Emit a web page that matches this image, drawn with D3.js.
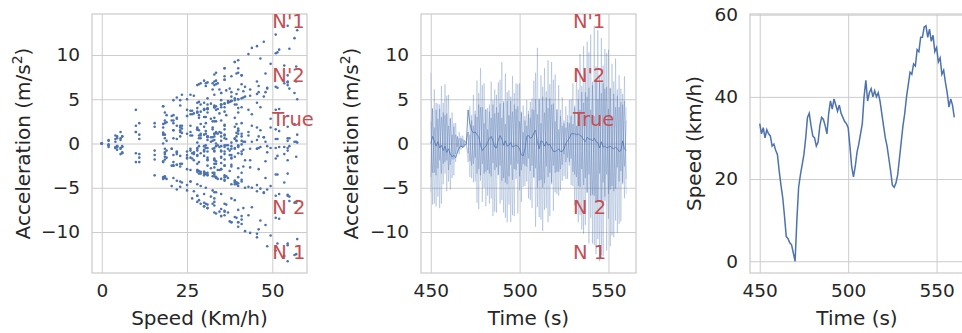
<!DOCTYPE html>
<html>
<head>
<meta charset="utf-8">
<script src="https://cdn.jsdelivr.net/npm/d3@7"></script>
<style>
	body { margin: 0; background: #fff; }
	text { font-family: 'DejaVu Sans', sans-serif; fill: #262626; }
</style>
</head>
<body>
<div id="chart"></div>
<script>
// time samples (s)
const times = d3.range(450, 561);

// speed (km/h), one value per second
const speed = [
	33.5, 31, 32.5, 30, 32, 31, 30.5, 28, 28.5, 27,
	26, 22, 18.5, 15.5, 11, 6, 5.5, 4.5, 4, 2,
	0, 10, 18, 21, 23.5, 26, 30, 35, 36, 33,
	30.5, 30, 28, 29, 33, 35, 34.5, 33, 31, 36,
	39, 37, 39.5, 38, 36.5, 38, 36, 35, 34, 33.5,
	32.5, 28, 23, 20.5, 23, 26.5, 28.5, 31, 33.5, 40,
	44, 39, 41, 42, 40, 41.5, 40, 41, 39, 36,
	33, 30, 28, 25, 22, 18.5, 18, 19, 21, 25,
	29, 33, 36, 40, 43, 46, 45.5, 48, 47.5, 51.5,
	51, 54.5, 54.5, 57, 57.3, 54.5, 56.5, 53.5, 55, 51,
	52, 48.5, 49.5, 45.5, 46.5, 43.5, 41, 37.5, 39.5, 38,
	35
];

// true acceleration (m/s2)
const accTrue = [
	0, 0.8, 0.3, -0.3, 0.2, -0.5, -0.2, -0.8, -0.3, -1.0,
	-0.6, -1.2, -1.5, -1.3, -1.6, -1.0, -0.5, -0.3, -0.4, -0.2,
	0.0, 3.8, 2.2, 1.5, 1.2, 1.3, 1.0, 0.8, -0.2, -0.8,
	-0.5, -0.3, 0.1, 0.6, 0.8, 0.3, -0.4, -0.5, 0.4, 0.9,
	0.5, -0.2, 0.3, -0.3, -0.2, 0.1, -0.4, -0.3, -0.2, -0.3,
	-0.6, -1.3, -1.4, -0.6, 0.8, 0.9, 0.6, 0.7, 1.2, 1.5,
	0.2, -0.6, 0.3, 0.2, -0.3, 0.2, -0.2, -0.1, -0.5, -0.9,
	-0.9, -0.8, -0.6, -0.9, -0.9, -0.6, 0.0, 0.3, 0.6, 1.1,
	1.1, 1.1, 1.0, 1.1, 0.9, 0.8, 0.4, 0.2, 0.7, 0.5,
	0.5, 0.3, 0.6, 0.2, 0.1, -0.5, 0.2, -0.4, -0.3, -0.5,
	-0.4, -0.3, -0.5, -0.6, -0.4, -0.6, -0.9, -0.8, 0.3, -0.6,
	-0.8
];

// small measurement noise around the true acceleration
const accSmall = [
	1.2, -0.9, 1.6, -1.4, 0.7, -1.8, 1.1, -0.5, 1.5, -1.2,
	0.9, -1.0, 0.6, -0.8, 0.5, -0.3, 0.4, -0.3, 0.2, -0.1,
	0, 2.0, 1.2, -1.3, 1.7, -0.8, 1.9, -1.6, 0.6, -1.9,
	1.4, -0.7, 1.8, -1.1, 0.4, -1.5, 1.3, -1.8, 0.8, -1.2,
	1.9, -0.6, 1.2, -1.7, 0.5, -1.3, 1.6, -0.9, 1.1, -2.0,
	0.7, -1.4, 1.5, -0.6, 1.8, -1.1, 0.9, -1.6, 1.3, -0.4,
	2.0, -1.5, 0.8, -1.9, 1.4, -0.7, 1.7, -1.2, 0.6, -1.8,
	1.1, -0.9, 1.6, -1.3, 0.5, -1.0, 1.2, -0.8, 1.5, -1.6,
	0.9, -1.7, 2.1, -1.1, 1.3, -0.5, 1.8, -2.0, 0.7, -1.4,
	1.6, -0.8, 1.9, -1.5, 1.0, -1.9, 2.2, -1.2, 0.6, -1.7,
	1.4, -1.0, 1.8, -0.6, 1.5, -1.9, 1.1, -1.3, 0.8, -1.6,
	1.2
];

// acceleration with strong noise (N'1 / N 1), two runs
const accN1 = [
	8.0, -6.9, 6.1, -7.1, 4.5, -7.3, 6.5, -4.6, 6.7, -5.4,
	5.5, -5.2, 3.5, -3.6, 2.3, -1.1, 1.3, -0.7, 0.9, -0.4,
	0, -2.1, 4.2, -3.9, 5.5, -4.3, 7.1, -7.4, 8.5, -6.6,
	6.8, -7.1, 4.0, -6.8, 7.0, -8.2, 6.1, -7.8, 6.9, -6.8,
	9.2, -7.8, 7.9, -8.9, 6.0, -8.9, 7.6, -8.2, 6.8, -7.9,
	6.8, -6.6, 4.3, -4.8, 4.9, -6.2, 4.7, -7.3, 7.1, -9.4,
	10.8, -8.3, 7.7, -9.9, 8.5, -7.3, 9.4, -8.2, 9.2, -7.6,
	7.8, -5.7, 6.6, -5.3, 5.2, -3.7, 4.2, -4.0, 4.9, -4.7,
	6.8, -7.0, 8.5, -8.9, 10.1, -9.7, 11.0, -9.2, 11.5, -11.3,
	12.3, -11.3, 13.3, -12.5, 12.8, -13.3, 11.9, -12.7, 10.7, -12.1,
	10.6, -11.6, 9.0, -10.6, 9.6, -10.1, 7.7, -8.8, 5.6, -6.2,
	4.1
];
const accN1b = [
	-5.5, 4.0, -6.8, 4.6, -6.0, 4.4, -6.8, 4.6, -3.4, 5.4,
	-4.3, 2.9, -3.9, 2.3, -2.1, 0.8, -1.2, 0.8, -0.5, 0.4,
	0, 1.3, -3.8, 3.2, -4.4, 3.7, -6.7, 5.7, -4.2, 6.6,
	-5.0, 3.9, -5.9, 4.4, -6.2, 4.9, -7.7, 5.5, -3.6, 7.2,
	-6.4, 4.8, -8.4, 5.8, -6.9, 5.3, -8.1, 5.7, -4.0, 6.7,
	-5.3, 3.6, -4.9, 3.1, -4.3, 3.7, -6.4, 5.1, -3.9, 8.0,
	-7.2, 5.1, -8.6, 6.4, -7.5, 5.9, -8.9, 6.7, -4.6, 7.2,
	-5.5, 3.9, -5.9, 3.8, -4.2, 2.6, -4.0, 3.2, -2.5, 5.0,
	-4.8, 4.3, -7.7, 6.1, -8.1, 6.5, -10.2, 7.9, -5.6, 10.3,
	-8.4, 7.0, -11.5, 8.7, -10.8, 7.7, -12.6, 8.8, -6.5, 10.2,
	-8.5, 6.3, -10.4, 7.0, -8.7, 6.1, -9.1, 6.2, -4.6, 7.6,
	-5.7
];

// acceleration with moderate noise (N'2 / N 2), two runs
const accN2 = [
	-3.8, 3.9, -3.3, 3.8, -2.8, 3.9, -3.4, 3.5, -2.1, 3.4,
	-3.0, 2.8, -1.8, 1.9, -1.2, 0.8, -0.6, 0.6, -0.5, 0.3,
	0, 1.3, -2.0, 2.6, -2.3, 3.3, -3.4, 4.4, -3.6, 4.1,
	-3.4, 3.8, -3.0, 3.6, -3.7, 4.4, -3.0, 4.1, -3.5, 4.5,
	-4.2, 4.6, -4.4, 4.8, -3.7, 4.8, -4.1, 4.4, -3.0, 4.2,
	-3.7, 3.5, -2.3, 2.6, -2.6, 3.3, -3.1, 3.9, -3.8, 5.0,
	-5.0, 4.9, -4.1, 5.3, -4.5, 5.2, -3.8, 5.1, -4.4, 4.5,
	-3.3, 3.8, -3.2, 3.1, -2.4, 2.3, -2.1, 2.4, -2.1, 3.1,
	-3.2, 4.1, -3.8, 5.0, -4.9, 5.8, -4.7, 5.8, -5.5, 6.3,
	-5.9, 6.6, -5.9, 7.0, -6.5, 6.9, -6.7, 6.8, -6.0, 6.4,
	-5.7, 6.2, -4.8, 5.6, -5.1, 5.4, -4.3, 4.7, -4.4, 4.8,
	-4.0
];
const accN2b = [
	2.5, -3.3, 1.8, -3.6, 2.8, -1.9, 3.0, -2.3, 3.2, -1.9,
	2.0, -2.4, 1.0, -1.8, 1.0, -0.4, 0.6, -0.4, 0.5, -0.2,
	0, -1.1, 1.0, -2.5, 2.0, -1.6, 3.0, -2.9, 4.1, -2.3,
	2.3, -3.2, 1.6, -3.4, 2.9, -2.2, 3.4, -2.7, 3.5, -2.5,
	2.9, -3.9, 2.2, -4.6, 3.2, -2.4, 3.6, -2.9, 3.9, -2.3,
	2.5, -3.0, 1.3, -2.5, 2.0, -1.7, 2.9, -2.5, 3.8, -2.8,
	3.3, -4.2, 2.3, -5.0, 3.5, -2.6, 4.0, -3.3, 4.4, -2.5,
	2.5, -3.2, 1.6, -2.9, 2.0, -1.2, 1.8, -1.6, 2.3, -1.7,
	2.2, -3.5, 2.0, -4.8, 3.8, -2.9, 4.6, -3.9, 5.3, -3.5,
	3.8, -5.8, 3.1, -6.7, 5.0, -3.4, 5.7, -4.4, 6.2, -3.5,
	3.9, -5.2, 2.8, -5.4, 4.1, -2.7, 4.1, -3.1, 4.4, -2.6,
	2.6
];

// text annotations
const noiseLabels = ["N'1", "N'2", 'True', 'N 2', 'N 1'];
const noiseLabelY = [13, 7, 2, -8, -13];

const speedTicks = [0, 25, 50];
const timeTicks = [450, 500, 550];
const accTicks = [-10, -5, 0, 5, 10];
const speedAxisTicks = [0, 20, 40, 60];

const blue = '#4c72b0';
const red = '#c44e52';
const gridColor = '#cccccc';

const W = 962, H = 333;
const plotTop = 14, plotBottom = 273;

const svg = d3.select('#chart').append('svg')
	.attr('width', W)
	.attr('height', H);

// matplotlib style 5% padding
function padded(ext) {
	const p = (ext[1] - ext[0]) * 0.05;
	return [ext[0] - p, ext[1] + p];
}

const allAcc = [...accTrue, ...accSmall, ...accN1, ...accN1b, ...accN2, ...accN2b];
const accDomain = padded(d3.extent(allAcc));

function makePanel(left, right, xDomain, yDomain, xTicks, yTicks, xLabel, yLabel, yLabelX) {
	const w = right - left, h = plotBottom - plotTop;
	const g = svg.append('g').attr('transform', `translate(${left},${plotTop})`);
	const x = d3.scaleLinear().domain(xDomain).range([0, w]);
	const y = d3.scaleLinear().domain(yDomain).range([h, 0]);

	const gx = g.append('g')
		.attr('transform', `translate(0,${h})`)
		.call(d3.axisBottom(x).tickValues(xTicks).tickSizeInner(-h).tickSizeOuter(0).tickPadding(11));
	const gy = g.append('g')
		.call(d3.axisLeft(y).tickValues(yTicks).tickSizeInner(-w).tickSizeOuter(0).tickPadding(12)
			.tickFormat((d) => (d < 0 ? '\u2212' + Math.abs(d) : d)));
	[gx, gy].forEach((a) => {
		a.select('.domain').remove();
		a.selectAll('line').attr('stroke', gridColor).attr('stroke-width', 1);
		a.selectAll('text').attr('font-size', 18.5).attr('fill', '#262626')
			.attr('font-family', "'DejaVu Sans', sans-serif");
	});

	g.append('rect')
		.attr('width', w).attr('height', h)
		.attr('fill', 'none').attr('stroke', gridColor).attr('stroke-width', 1.25);

	svg.append('text')
		.attr('x', left + w / 2).attr('y', 325)
		.attr('text-anchor', 'middle').attr('font-size', 20)
		.text(xLabel);

	const yl = svg.append('text')
		.attr('transform', `translate(${yLabelX},${plotTop + h / 2}) rotate(-90)`)
		.attr('text-anchor', 'middle').attr('font-size', 20);
	yl.append('tspan').text(yLabel[0]);
	if (yLabel[1]) {
		yl.append('tspan').attr('dy', -8).attr('font-size', 14).text(yLabel[1]);
		yl.append('tspan').attr('dy', 8).text(yLabel[2]);
	}

	const plot = g.append('g');
	return { g, plot, x, y, w, h };
}

function addLabels(p, xPos) {
	p.g.selectAll('.nlabel')
		.data(noiseLabels)
		.enter()
		.append('text')
		.attr('class', 'nlabel')
		.attr('x', p.x(xPos))
		.attr('y', (d, i) => p.y(noiseLabelY[i]))
		.attr('font-size', 19.5)
		.style('fill', red)
		.text((d) => d);
}

// ---- panel 1: acceleration vs speed
const p1 = makePanel(92, 307, padded(d3.extent(speed)), accDomain, speedTicks, accTicks,
	'Speed (Km/h)', ['Acceleration (m/s', '2', ')'], 30);

[accTrue, accSmall, accN1, accN1b, accN2, accN2b].forEach((series) => {
	p1.plot.selectAll(null)
		.data(series)
		.enter()
		.append('circle')
		.attr('cx', (d, i) => p1.x(speed[i]))
		.attr('cy', (d) => p1.y(d))
		.attr('r', 1.3)
		.attr('fill', blue);
});
addLabels(p1, 50);

// ---- panel 2: acceleration vs time
const timeDomain = padded(d3.extent(times));
const p2 = makePanel(421, 636, timeDomain, accDomain, timeTicks, accTicks,
	'Time (s)', ['Acceleration (m/s', '2', ')'], 358);

const line2 = (series) => d3.line()
	.x((d, i) => p2.x(times[i]))
	.y((d) => p2.y(d))(series);

[[accN1, 0.25], [accN1b, 0.25], [accN2, 0.3], [accN2b, 0.3]].forEach(([series, op]) => {
	p2.plot.append('path').attr('d', line2(series))
		.attr('fill', 'none').attr('stroke', blue).attr('stroke-opacity', op).attr('stroke-width', 1);
});
p2.plot.append('path').attr('d', line2(accTrue))
	.attr('fill', 'none').attr('stroke', blue).attr('stroke-opacity', 0.85).attr('stroke-width', 0.9);
addLabels(p2, 530);

// ---- panel 3: speed vs time
const p3 = makePanel(750, 964, timeDomain, padded(d3.extent(speed)), timeTicks, speedAxisTicks,
	'Time (s)', ['Speed (km/h)'], 701);

p3.plot.append('path')
	.datum(speed)
	.attr('fill', 'none')
	.attr('stroke', blue)
	.attr('stroke-width', 1.5)
	.attr('d', d3.line()
		.x((d, i) => p3.x(times[i]))
		.y((d) => p3.y(d)));
</script>
</body>
</html>
